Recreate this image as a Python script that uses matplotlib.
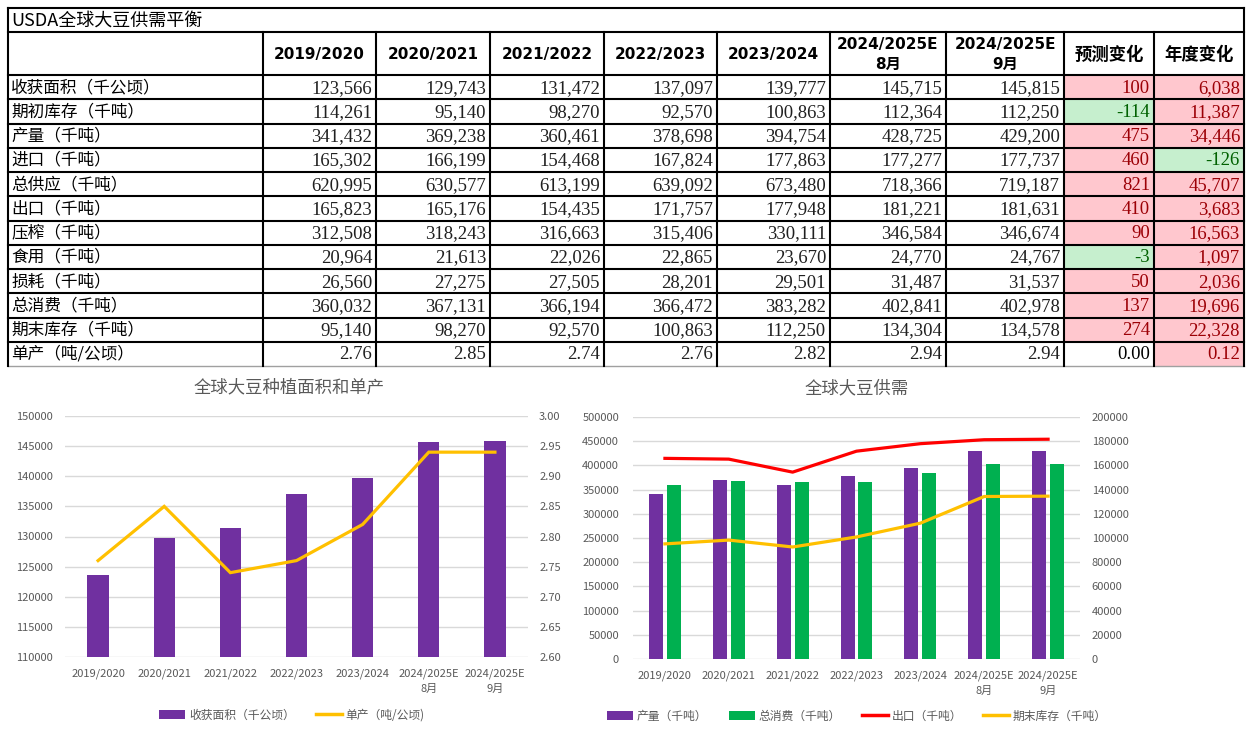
import matplotlib
matplotlib.use('Agg')
import matplotlib.pyplot as plt
from matplotlib.patches import Rectangle, Patch
from matplotlib.lines import Line2D
import numpy as np

plt.rcParams['font.family'] = ['Noto Sans CJK SC', 'DejaVu Sans']

# ---------------- data ----------------
table_title = 'USDA全球大豆供需平衡'
seasons = ['2019/2020', '2020/2021', '2021/2022', '2022/2023', '2023/2024',
           '2024/2025E\n8月', '2024/2025E\n9月']
change_headers = ['预测变化', '年度变化']
row_labels = ['收获面积（千公顷）', '期初库存（千吨）', '产量（千吨）', '进口（千吨）',
              '总供应（千吨）', '出口（千吨）', '压榨（千吨）', '食用（千吨）',
              '损耗（千吨）', '总消费（千吨）', '期末库存（千吨）', '单产（吨/公顷）']

harvest_area = [123566, 129743, 131472, 137097, 139777, 145715, 145815]
beginning_stocks = [114261, 95140, 98270, 92570, 100863, 112364, 112250]
production = [341432, 369238, 360461, 378698, 394754, 428725, 429200]
imports = [165302, 166199, 154468, 167824, 177863, 177277, 177737]
total_supply = [620995, 630577, 613199, 639092, 673480, 718366, 719187]
exports = [165823, 165176, 154435, 171757, 177948, 181221, 181631]
crush = [312508, 318243, 316663, 315406, 330111, 346584, 346674]
food_use = [20964, 21613, 22026, 22865, 23670, 24770, 24767]
loss = [26560, 27275, 27505, 28201, 29501, 31487, 31537]
total_use = [360032, 367131, 366194, 366472, 383282, 402841, 402978]
ending_stocks = [95140, 98270, 92570, 100863, 112250, 134304, 134578]
yield_t_ha = [2.76, 2.85, 2.74, 2.76, 2.82, 2.94, 2.94]
forecast_change = [100, -114, 475, 460, 821, 410, 90, -3, 50, 137, 274, 0.00]
annual_change = [6038, 11387, 34446, -126, 45707, 3683, 16563, 1097, 2036, 19696, 22328, 0.12]

table_rows = [harvest_area, beginning_stocks, production, imports, total_supply, exports,
              crush, food_use, loss, total_use, ending_stocks, yield_t_ha]

left_title = '全球大豆种植面积和单产'
right_title = '全球大豆供需'
left_legend = ['收获面积（千公顷）', '单产（吨/公顷)']
right_legend = ['产量（千吨）', '总消费（千吨）', '出口（千吨）', '期末库存（千吨）']

# ---------------- styles ----------------
PURPLE = '#7030A0'
GREEN = '#00B050'
YELLOW = '#FFC000'
RED = '#FF0000'
GRID = '#D9D9D9'
TXT = '#595959'
PINK_FILL, PINK_TXT = '#FFC7CE', '#9C0006'
GRN_FILL, GRN_TXT = '#C6EFCE', '#006100'

W, H = 1254, 732
fig = plt.figure(figsize=(W / 100, H / 100), dpi=100)
fig.patch.set_facecolor('white')

# ---------------- table ----------------
tax = fig.add_axes([0, 0, 1, 1])
tax.set_xlim(0, W)
tax.set_ylim(H, 0)
tax.axis('off')

col_x = [8, 263, 376, 490, 604, 717, 830, 946, 1064, 1154, 1244]
title_top, head_top, head_bot = 8, 32, 75
row_h = 24.25
n_rows = len(row_labels)
row_y = [head_bot + i * row_h for i in range(n_rows + 1)]

num_font = ['Liberation Serif', 'Noto Sans CJK SC']
LW = 1.5

def fmt(v, is_float):
    return f'{v:.2f}' if is_float else f'{int(v):,}'

def style_for(v):
    if v > 0:
        return PINK_FILL, PINK_TXT
    if v < 0:
        return GRN_FILL, GRN_TXT
    return 'white', 'black'

for i, lab in enumerate(row_labels):
    y0, y1 = row_y[i], row_y[i + 1]
    yc = (y0 + y1) / 2
    is_float = (i == n_rows - 1)
    tax.text(col_x[0] + 3, yc + 0.5, lab, fontsize=12, va='center', ha='left', color='black')
    for j, v in enumerate(table_rows[i]):
        tax.text(col_x[j + 2] - 4, yc + 1, fmt(v, is_float), fontsize=13.5, va='center',
                 ha='right', family=num_font, color='#202020')
    for k, ch in enumerate([forecast_change[i], annual_change[i]]):
        fill, tcol = style_for(ch)
        xa, xb = col_x[8 + k], col_x[9 + k]
        tax.add_patch(Rectangle((xa, y0), xb - xa, y1 - y0, facecolor=fill, edgecolor='none', zorder=1))
        tax.text(xb - 4, yc + 1, fmt(ch, is_float), fontsize=13.5, va='center', ha='right',
                 family=num_font, color=tcol, zorder=3)

# title
tax.text(col_x[0] + 3, (title_top + head_top) / 2 + 0.5, table_title, fontsize=13,
         va='center', ha='left', color='black')
# headers
hc = (head_top + head_bot) / 2
for j, s in enumerate(seasons):
    xc = (col_x[j + 1] + col_x[j + 2]) / 2
    tax.text(xc, hc + 1, s, fontsize=11, fontweight='bold', va='center', ha='center',
             family=['DejaVu Sans', 'Noto Sans CJK SC'], linespacing=1.45)
for k, s in enumerate(change_headers):
    xc = (col_x[8 + k] + col_x[9 + k]) / 2
    tax.text(xc, hc + 1, s, fontsize=12.5, fontweight='bold', va='center', ha='center')

# grid lines
tax.plot([col_x[0], col_x[-1]], [title_top, title_top], color='black', lw=LW, zorder=4)
tax.plot([col_x[0], col_x[-1]], [head_top, head_top], color='black', lw=LW, zorder=4)
for y in row_y[:-1]:
    tax.plot([col_x[0], col_x[-1]], [y, y], color='black', lw=LW, zorder=4)
tax.plot([col_x[0], col_x[-1]], [row_y[-1], row_y[-1]], color='#A0A0A0', lw=1, zorder=4)
for xx in [col_x[0], col_x[-1]]:
    tax.plot([xx, xx], [title_top, row_y[-1]], color='black', lw=LW, zorder=4)
for xx in col_x[1:-1]:
    tax.plot([xx, xx], [head_top, row_y[-1]], color='black', lw=LW, zorder=4)

# ---------------- chart helpers ----------------
def style_axis(ax):
    for s in ax.spines.values():
        s.set_visible(False)
    ax.tick_params(length=0, labelcolor=TXT, labelsize=8)

x = np.arange(len(seasons))

# ---------------- left chart ----------------
ax1 = fig.add_axes([65 / W, (H - 657) / H, 463 / W, 241 / H])
ax1.bar(x, harvest_area, width=0.32, color=PURPLE, zorder=3)
ax1.set_xlim(-0.5, len(seasons) - 0.5)
ax1.set_ylim(110000, 150000)
ax1.set_yticks(np.arange(110000, 150001, 5000))
ax1.set_yticklabels([f'{int(v)}' for v in np.arange(110000, 150001, 5000)])
ax1.grid(axis='y', color=GRID, lw=1, zorder=0)
ax1.set_axisbelow(True)
ax1.set_xticks(x)
ax1.set_xticklabels(seasons, linespacing=1.6)
style_axis(ax1)
ax1.tick_params(axis='y', pad=9)
ax1.tick_params(axis='x', pad=8)
ax1b = ax1.twinx()
ax1b.plot(x, yield_t_ha, color=YELLOW, lw=2.3, solid_joinstyle='miter', zorder=4)
ax1b.set_ylim(2.6, 3.0)
yt = np.arange(2.60, 3.001, 0.05)
ax1b.set_yticks(yt)
ax1b.set_yticklabels([f'{v:.2f}' for v in yt])
style_axis(ax1b)
ax1b.tick_params(axis='y', pad=8)

fig.text(289 / W, (H - 387) / H, left_title, fontsize=12.5, color=TXT, ha='center', va='center')
h1 = [Patch(facecolor=PURPLE), Line2D([0], [0], color=YELLOW, lw=2.5)]
fig.legend(h1, left_legend, loc='center', bbox_to_anchor=(292 / W, (H - 715) / H), ncol=2,
           frameon=False, fontsize=8.5, labelcolor=TXT, handlelength=2.2, handletextpad=0.3,
           columnspacing=1.8)

# ---------------- right chart ----------------
ax2 = fig.add_axes([633 / W, (H - 659) / H, 447 / W, 242 / H])
bw = 0.22
ax2.bar(x - 0.14, production, width=bw, color=PURPLE, zorder=3)
ax2.bar(x + 0.14, total_use, width=bw, color=GREEN, zorder=3)
ax2.set_xlim(-0.5, len(seasons) - 0.5)
ax2.set_ylim(0, 500000)
ly = np.arange(0, 500001, 50000)
ax2.set_yticks(ly)
ax2.set_yticklabels([f'{int(v)}' for v in ly])
ax2.grid(axis='y', color=GRID, lw=1, zorder=0)
ax2.set_axisbelow(True)
ax2.set_xticks(x)
ax2.set_xticklabels(seasons, linespacing=1.6)
style_axis(ax2)
ax2.tick_params(axis='y', pad=10)
ax2.tick_params(axis='x', pad=8)
ax2b = ax2.twinx()
ax2b.plot(x, exports, color=RED, lw=2.3, zorder=4)
ax2b.plot(x, ending_stocks, color=YELLOW, lw=2.3, zorder=4)
ax2b.set_ylim(0, 200000)
ry = np.arange(0, 200001, 20000)
ax2b.set_yticks(ry)
ax2b.set_yticklabels([f'{int(v)}' for v in ry])
style_axis(ax2b)
ax2b.tick_params(axis='y', pad=8.5)

fig.text(857 / W, (H - 388) / H, right_title, fontsize=12.5, color=TXT, ha='center', va='center')
h2 = [Patch(facecolor=PURPLE), Patch(facecolor=GREEN),
      Line2D([0], [0], color=RED, lw=2.5), Line2D([0], [0], color=YELLOW, lw=2.5)]
fig.legend(h2, right_legend, loc='center', bbox_to_anchor=(857 / W, (H - 716) / H), ncol=4,
           frameon=False, fontsize=8.5, labelcolor=TXT, handlelength=2.2, handletextpad=0.3,
           columnspacing=1.8)

fig.savefig('out.png', dpi=100, facecolor='white')
